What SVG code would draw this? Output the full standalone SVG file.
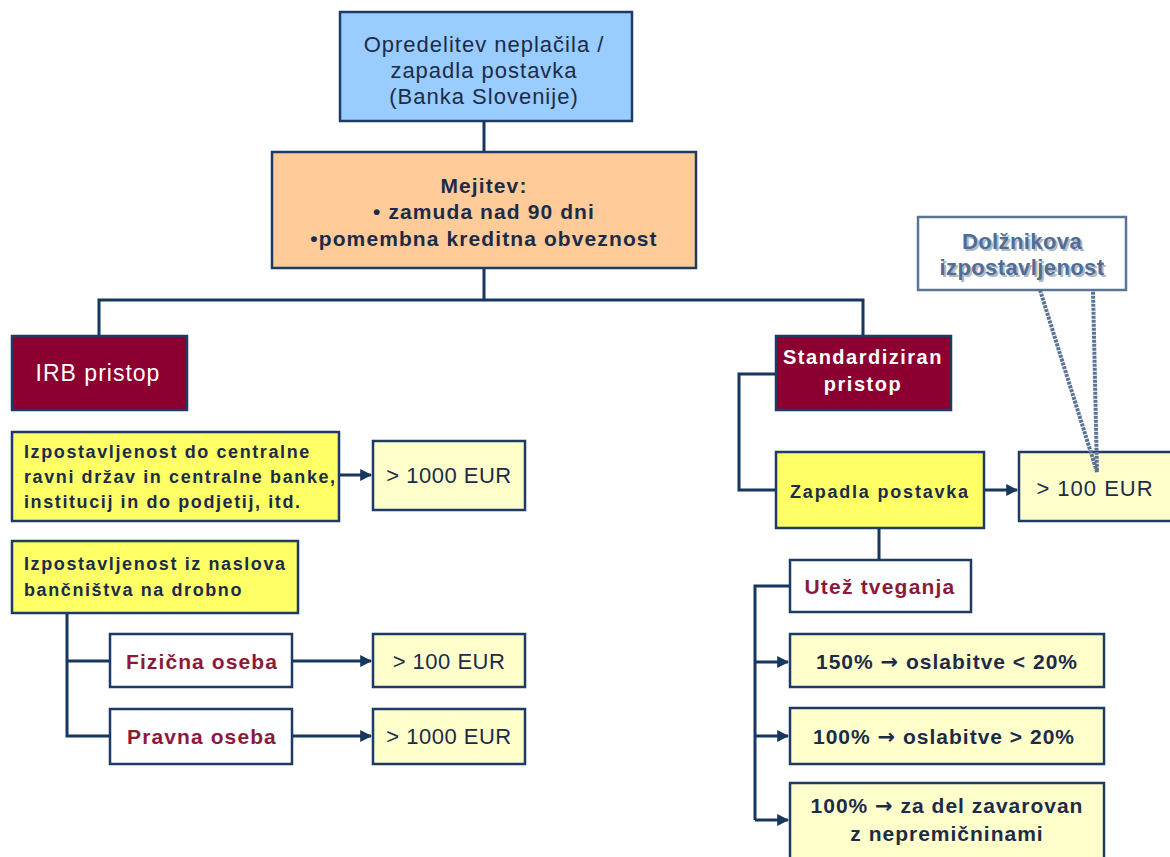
<svg xmlns="http://www.w3.org/2000/svg" width="1170" height="857" viewBox="0 0 1170 857">
<defs>
<marker id="arr" viewBox="0 0 10 10" refX="9" refY="5" markerWidth="4" markerHeight="4" orient="auto" markerUnits="strokeWidth">
<path d="M0,0 L10,5 L0,10 z" fill="#17375E"/>
</marker>
<style>
.t{font-family:"Liberation Sans",Arial,sans-serif;}
.ar{font-family:"DejaVu Sans",sans-serif;font-weight:bold;}
.box{stroke:#1F3A64;stroke-width:2.5;}
.blue{fill:#99CCFF;}
.orange{fill:#FFCC99;}
.red{fill:#8B0030;}
.yel{fill:#FFFF66;}
.pale{fill:#FFFFCC;}
.wht{fill:#FFFFFF;}
.navy{fill:#1C2B47;}
.dred{fill:#8B1A3A;}
.line{stroke:#17375E;stroke-width:3;fill:none;}
.arrow{stroke:#17375E;stroke-width:3;fill:none;marker-end:url(#arr);}
</style>
</defs>
<rect width="1170" height="857" fill="#FFFFFF"/>

<g id="connectors">
<path class="line" d="M484,121 V152"/>
<path class="line" d="M484,268 V300 M99,336 V300 H863 V336"/>
<path class="line" d="M776,374 H739 V490 H776"/>
<path class="arrow" d="M339,475 H371"/>
<path class="line" d="M67,613 V736 H110 M67,661 H110"/>
<path class="arrow" d="M292,661 H371"/>
<path class="arrow" d="M292,736 H371"/>
<path class="arrow" d="M984,490 H1017"/>
<path class="line" d="M879,528 V560"/>
<path class="line" d="M790,586 H755 V820"/>
<path class="arrow" d="M755,662 H788"/>
<path class="arrow" d="M755,736 H788"/>
<path class="arrow" d="M755,820 H788"/>
</g>

<g id="n-top">
<rect class="box blue" x="340" y="12" width="292" height="109"/>
<text class="t navy" font-size="22" letter-spacing="1" text-anchor="middle"><tspan x="484" y="52">Opredelitev neplačila /</tspan><tspan x="484" y="78">zapadla postavka</tspan><tspan x="484" y="104">(Banka Slovenije)</tspan></text>
</g>

<g id="n-mejitev">
<rect class="box orange" x="272" y="152" width="424" height="116"/>
<text class="t navy" font-size="21" font-weight="bold" letter-spacing="1.1" text-anchor="middle"><tspan x="484" y="193">Mejitev:</tspan><tspan x="484" y="219">• zamuda nad 90 dni</tspan><tspan x="484" y="246">•pomembna kreditna obveznost</tspan></text>
</g>

<g id="n-irb">
<rect class="box red" x="12" y="336" width="175" height="74"/>
<text class="t" fill="#FFFFFF" font-size="23" letter-spacing="1" text-anchor="middle" x="98" y="381">IRB pristop</text>
</g>

<g id="n-izp1">
<rect class="box yel" x="12" y="432" width="327" height="89"/>
<text class="t navy" font-size="18" font-weight="bold" letter-spacing="1.6"><tspan x="24" y="458">Izpostavljenost do centralne</tspan><tspan x="24" y="483">ravni držav in centralne banke,</tspan><tspan x="24" y="508">institucij in do podjetij, itd.</tspan></text>
</g>

<g id="n-1000a">
<rect class="box pale" x="373" y="441" width="152" height="69"/>
<text class="t navy" font-size="22" letter-spacing="0.5" text-anchor="middle" x="449" y="483">&gt; 1000 EUR</text>
</g>

<g id="n-izp2">
<rect class="box yel" x="12" y="541" width="286" height="72"/>
<text class="t navy" font-size="18" font-weight="bold" letter-spacing="1.6"><tspan x="24" y="570">Izpostavljenost iz naslova</tspan><tspan x="24" y="596">bančništva na drobno</tspan></text>
</g>

<g id="n-fiz">
<rect class="box wht" x="110" y="634" width="182" height="53"/>
<text class="t dred" font-size="21" font-weight="bold" letter-spacing="1.1" text-anchor="middle" x="202" y="669">Fizična oseba</text>
</g>

<g id="n-prav">
<rect class="box wht" x="110" y="709" width="182" height="55"/>
<text class="t dred" font-size="21" font-weight="bold" letter-spacing="1.1" text-anchor="middle" x="202" y="744">Pravna oseba</text>
</g>

<g id="n-100a">
<rect class="box pale" x="373" y="634" width="152" height="53"/>
<text class="t navy" font-size="22" letter-spacing="0.5" text-anchor="middle" x="449" y="669">&gt; 100 EUR</text>
</g>

<g id="n-1000b">
<rect class="box pale" x="373" y="709" width="152" height="55"/>
<text class="t navy" font-size="22" letter-spacing="0.5" text-anchor="middle" x="449" y="744">&gt; 1000 EUR</text>
</g>

<g id="n-std">
<rect class="box red" x="776" y="336" width="175" height="74"/>
<text class="t" fill="#FFFFFF" font-size="20" font-weight="bold" letter-spacing="1.5" text-anchor="middle"><tspan x="863" y="364">Standardiziran</tspan><tspan x="863" y="391">pristop</tspan></text>
</g>

<g id="n-zap">
<rect class="box yel" x="776" y="452" width="208" height="76"/>
<text class="t navy" font-size="18" font-weight="bold" letter-spacing="1.8" text-anchor="middle" x="880" y="498">Zapadla postavka</text>
</g>

<g id="n-100b">
<rect class="box pale" x="1019" y="452" width="153" height="69"/>
<text class="t navy" font-size="22" letter-spacing="1" text-anchor="middle" x="1095" y="496">&gt; 100 EUR</text>
</g>

<g id="n-callout">
<rect x="918" y="217" width="208" height="73" fill="#FFFFFF" stroke="#5B7394" stroke-width="2.5"/>
<path d="M1040,290 L1097,472 L1093,290" fill="none" stroke="#5B7394" stroke-width="4" stroke-dasharray="3 1"/>
<text class="t" font-size="22" font-weight="bold" letter-spacing="0.4" text-anchor="middle" fill="#B0B8C4" transform="translate(2,2)"><tspan x="1022" y="249">Dolžnikova</tspan><tspan x="1022" y="275">izpostavljenost</tspan></text>
<text class="t" font-size="22" font-weight="bold" letter-spacing="0.4" text-anchor="middle" fill="#4F6D96"><tspan x="1022" y="249">Dolžnikova</tspan><tspan x="1022" y="275">izpostavljenost</tspan></text>
</g>

<g id="n-utez">
<rect class="box wht" x="790" y="560" width="181" height="52"/>
<text class="t dred" font-size="21" font-weight="bold" letter-spacing="1.2" text-anchor="middle" x="880" y="594">Utež tveganja</text>
</g>

<g id="n-150">
<rect class="box pale" x="790" y="634" width="314" height="53"/>
<text class="t navy" font-size="21" font-weight="bold" letter-spacing="1" text-anchor="middle" x="947" y="669">150% <tspan class="ar">→</tspan> oslabitve &lt; 20%</text>
</g>

<g id="n-100c">
<rect class="box pale" x="790" y="708" width="314" height="56"/>
<text class="t navy" font-size="21" font-weight="bold" letter-spacing="1" text-anchor="middle" x="944" y="744">100% <tspan class="ar">→</tspan> oslabitve &gt; 20%</text>
</g>

<g id="n-100d">
<rect class="box pale" x="790" y="783" width="314" height="76"/>
<text class="t navy" font-size="21" font-weight="bold" letter-spacing="1" text-anchor="middle"><tspan x="947" y="813">100% <tspan class="ar">→</tspan> za del zavarovan</tspan><tspan x="947" y="841">z nepremičninami</tspan></text>
</g>
</svg>
